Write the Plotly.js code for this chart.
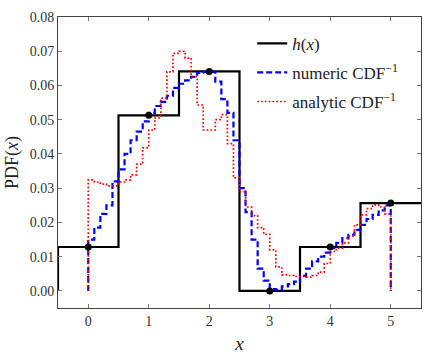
<!DOCTYPE html>
<html>
<head>
<meta charset="utf-8">
<script src="https://cdn.plot.ly/plotly-3.0.1.min.js"></script>
<style>html,body{margin:0;padding:0;background:#fff}#chart{width:444px;height:355px}</style>
</head>
<body>
<div id="chart"></div>
<script>
// ---- data ----
const hCenters = [0, 1, 2, 3, 4, 5];
const hVals = [0.01282, 0.05128, 0.06410, 0.0, 0.01282, 0.02564];
const hEdges = [-0.5, 0.5, 1.5, 2.5, 3.5, 4.5, 5.5];

const binStarts = [0.0,0.1,0.2,0.3,0.4,0.5,0.6,0.7,0.8,0.9,
                   1.0,1.1,1.2,1.3,1.4,1.5,1.6,1.7,1.8,1.9,
                   2.0,2.1,2.2,2.3,2.4,2.5,2.6,2.7,2.8,2.9,
                   3.0,3.1,3.2,3.3,3.4,3.5,3.6,3.7,3.8,3.9,
                   4.0,4.1,4.2,4.3,4.4,4.5,4.6,4.7,4.8,4.9];
const binEnd = 5.0;

const numericVals = [0.0150,0.0185,0.0225,0.0250,0.0320,0.0355,0.0400,0.0440,0.0465,0.0495,
                     0.0520,0.0540,0.0552,0.0570,0.0593,0.0605,0.0615,0.0625,0.0637,0.0640,
                     0.0640,0.0611,0.0560,0.0520,0.0440,0.0300,0.0230,0.0150,0.0065,0.0030,
                     0.0005,0.0003,0.0013,0.0020,0.0027,0.0044,0.0065,0.0086,0.0100,0.0112,
                     0.0125,0.0140,0.0154,0.0164,0.0178,0.0193,0.0210,0.0222,0.0235,0.0250];

const analyticVals = [0.0324,0.0318,0.0312,0.0307,0.0307,0.0318,0.0324,0.0339,0.0370,0.0418,
                      0.0470,0.0505,0.0563,0.0640,0.0694,0.0700,0.0680,0.0626,0.0543,0.0470,
                      0.0470,0.0500,0.0515,0.0430,0.0330,0.0290,0.0245,0.0220,0.0185,0.0165,
                      0.0120,0.0070,0.0047,0.0045,0.0042,0.0042,0.0040,0.0045,0.0055,0.0080,
                      0.0115,0.0125,0.0140,0.0160,0.0193,0.0222,0.0240,0.0251,0.0245,0.0225];

const yTicks = [0.00,0.01,0.02,0.03,0.04,0.05,0.06,0.07,0.08];
const xTicks = [0,1,2,3,4,5];

// ---- build step traces ----
function histStep(vals){
  const xs = [binStarts[0]].concat(binStarts).concat([binEnd, binEnd]);
  const ys = [0].concat(vals).concat([vals[vals.length-1], 0]);
  return {x: xs, y: ys};
}
const hx = [hEdges[0]].concat(hEdges);
const hy = [0].concat(hVals).concat([hVals[hVals.length-1]]);

const num = histStep(numericVals);
const ana = histStep(analyticVals);

const FONT = "Liberation Serif";

const traces = [
  {x: hx, y: hy, mode: 'lines', line: {shape: 'hv', color: '#000', width: 2.2},
   name: '<i>h</i>(<i>x</i>)', legendgroup: 'a'},
  {x: num.x, y: num.y, mode: 'lines', line: {shape: 'hv', color: '#0000ff', width: 2.2, dash: '6px,3px'},
   name: 'numeric CDF<sup>−1</sup>', legendgroup: 'b'},
  {x: ana.x, y: ana.y, mode: 'lines', line: {shape: 'hv', color: '#ff0000', width: 1.7, dash: '1.7px,2.1px'},
   name: 'analytic CDF<sup>−1</sup>', legendgroup: 'c'},
  {x: hCenters, y: hVals, mode: 'markers', marker: {color: '#000', size: 7}, showlegend: false, hoverinfo: 'skip'}
];

function axisCommon(){
  return {
    showgrid: false, zeroline: false, showline: true, linecolor: '#444', linewidth: 1,
    mirror: 'allticks', ticks: 'inside', ticklen: 4, tickcolor: '#777', tickwidth: 1,
    tickfont: {family: FONT, size: 14, color: '#333'}
  };
}

const layout = {
  width: 444, height: 355,
  margin: {l: 58, r: 23, t: 17, b: 47},
  paper_bgcolor: '#fff', plot_bgcolor: '#fff',
  font: {family: FONT, color: '#222'},
  showlegend: true,
  legend: {x: 0.535, y: 0.97, xanchor: 'left', yanchor: 'top', bgcolor: 'rgba(0,0,0,0)',
           font: {family: FONT, size: 17, color: '#222'}, traceorder: 'grouped', tracegroupgap: 4,
           itemwidth: 30},
  xaxis: Object.assign(axisCommon(), {range: [-0.5, 5.5], tickvals: xTicks, ticktext: xTicks.map(String),
          title: {text: '<i>x</i>', font: {family: FONT, size: 19, color: '#222'}, standoff: 8}}),
  yaxis: Object.assign(axisCommon(), {range: [-0.005, 0.08], tickvals: yTicks, ticktext: yTicks.map(v => v.toFixed(2)),
          title: {text: 'PDF(<i>x</i>)', font: {family: FONT, size: 18, color: '#222'}, standoff: 6}})
};

Plotly.newPlot('chart', traces, layout, {displayModeBar: false, staticPlot: true});
</script>
</body>
</html>
